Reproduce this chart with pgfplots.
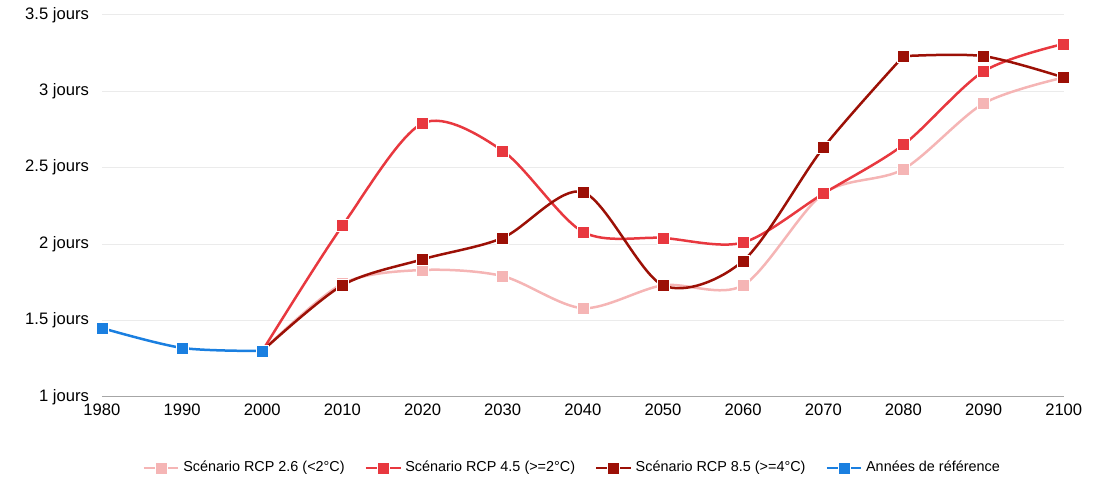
\documentclass[border=0pt]{standalone}
\usepackage{pgfplots}
\pgfplotsset{compat=1.18}
\usepackage{fontspec}
\setmainfont{Liberation Sans}

\definecolor{rcpA}{HTML}{F5B5B5}
\definecolor{rcpB}{HTML}{E8383F}
\definecolor{rcpC}{HTML}{9C1006}
\definecolor{refblue}{HTML}{1A7FE0}
\definecolor{gridgray}{HTML}{EBEBEB}

\begin{document}
\begin{tikzpicture}
\begin{axis}[
  scale only axis,
  width=481pt, height=191pt,
  xmin=1980, xmax=2100, ymin=1, ymax=3.5,
  xtick={1980,1990,...,2100},
  ytick={1,1.5,2,2.5,3,3.5},
  x tick label style={/pgf/number format/1000 sep=},
  /pgf/number format/assume math mode=true,
  yticklabel={\pgfmathprintnumber{\tick} jours},
  tick label style={font=\fontsize{8.3}{9}\selectfont, black},
  major tick length=0pt,
  axis x line*=bottom, axis y line*=left,
  x axis line style={draw=gray!70, line width=0.6pt},
  y axis line style={draw=none},
  ymajorgrids, grid style={gridgray, line width=0.5pt},
  xticklabel style={yshift=0pt},
  yticklabel style={xshift=-3pt},
  clip=false,
  every axis plot/.append style={smooth, tension=0.5, line width=1.25pt},
  legend style={at={(0.49,-0.186)}, anchor=center, draw=none,
    font=\fontsize{7.2}{9}\selectfont, legend columns=-1,
    /tikz/every even column/.append style={column sep=8pt}},
]
\addplot[rcpA, mark=square*, mark size=3pt, mark options={draw=white, line width=0.3pt, fill=rcpA}]
coordinates {(2000,1.30) (2010,1.74) (2020,1.83) (2030,1.79) (2040,1.58) (2050,1.73)
 (2060,1.73) (2070,2.33) (2080,2.49) (2090,2.92) (2100,3.09)};
\addlegendentry{Scénario RCP 2.6 (<2°C)}
\addplot[rcpB, mark=square*, mark size=3pt, mark options={draw=white, line width=0.3pt, fill=rcpB}]
coordinates {(2000,1.30) (2010,2.12) (2020,2.79) (2030,2.61) (2040,2.08) (2050,2.04)
 (2060,2.01) (2070,2.33) (2080,2.65) (2090,3.13) (2100,3.31)};
\addlegendentry{Scénario RCP 4.5 (>=2°C)}
\addplot[rcpC, mark=square*, mark size=3pt, mark options={draw=white, line width=0.3pt, fill=rcpC}]
coordinates {(2000,1.30) (2010,1.73) (2020,1.90) (2030,2.04) (2040,2.34) (2050,1.73)
 (2060,1.89) (2070,2.63) (2080,3.23)};
\addlegendentry{Scénario RCP 8.5 (>=4°C)}
\addplot[rcpC, forget plot, mark=square*, mark size=3pt, mark options={draw=white, line width=0.3pt, fill=rcpC}]
coordinates {(2080,3.23) (2090,3.23) (2100,3.09)};
\addplot[refblue, mark=square*, mark size=3pt, mark options={draw=white, line width=0.3pt, fill=refblue}]
coordinates {(1980,1.45) (1990,1.32) (2000,1.30)};
\addlegendentry{Années de référence}
\path[draw=none] (rel axis cs:-0.106,-0.217) rectangle (rel axis cs:1.045,1.039);
\end{axis}
\end{tikzpicture}
\end{document}
